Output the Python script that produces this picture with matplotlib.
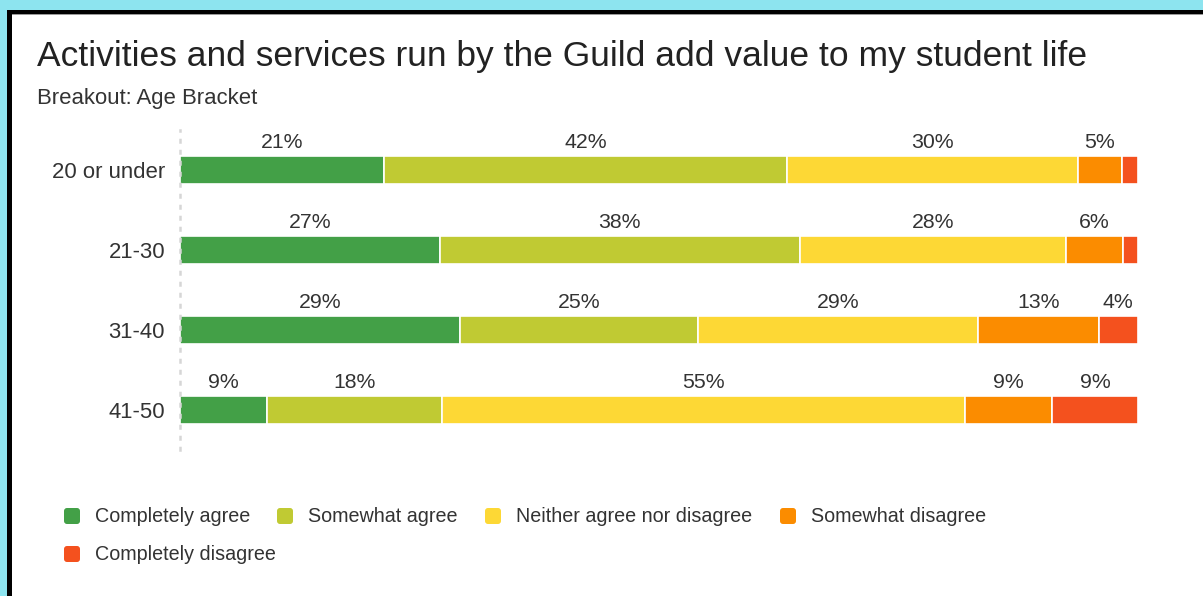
import matplotlib.pyplot as plt
from matplotlib.patches import Rectangle, FancyBboxPatch
import numpy as np

# --- DATA ---
age_brackets = ["20 or under", "21-30", "31-40", "41-50"]
responses = ["Completely agree", "Somewhat agree", "Neither agree nor disagree",
             "Somewhat disagree", "Completely disagree"]

completely_agree = [21.3, 27.1, 29.2, 9.1]
somewhat_agree = [42.1, 37.6, 24.9, 18.2]
neither = [30.3, 27.8, 29.2, 54.6]
somewhat_disagree = [4.6, 5.9, 12.6, 9.1]
completely_disagree = [1.7, 1.6, 4.1, 9.0]

colors = ["#43a047", "#c0ca33", "#fdd835", "#fb8c00", "#f4511e"]

title = "Activities and services run by the Guild add value to my student life"
subtitle = "Breakout: Age Bracket"

plt.rcParams['font.family'] = ['Liberation Sans', 'DejaVu Sans']
TXT = '#333333'

W, H = 1203, 596
fig = plt.figure(figsize=(W / 100, H / 100), dpi=100)
fig.patch.set_facecolor('#8de4ef')

# frame / background layer in pixel coordinates
bg = fig.add_axes([0, 0, 1, 1])
bg.set_xlim(0, W)
bg.set_ylim(H, 0)
bg.axis('off')
bg.add_patch(Rectangle((7, 10), W, H, facecolor='black', edgecolor='none'))
bg.add_patch(Rectangle((12, 14), W, H, facecolor='#9a9a9a', edgecolor='none'))
bg.add_patch(Rectangle((12, 15), W, H, facecolor='white', edgecolor='none'))

bg.text(37, 66, title, fontsize=25.5, color='#222222', va='baseline', ha='left')
bg.text(37, 104, subtitle, fontsize=15.9, color=TXT, va='baseline', ha='left')

# --- BARS ---
ax = fig.add_axes([180 / W, 1 - 450 / H, 958 / W, 320 / H])
ax.set_facecolor('none')
series = [completely_agree, somewhat_agree, neither, somewhat_disagree, completely_disagree]
y = np.arange(len(age_brackets))
left = np.zeros(len(age_brackets))
for vals, col, name in zip(series, colors, responses):
    vals = np.array(vals)
    ax.barh(y, vals, left=left, height=0.34, color=col, edgecolor='white',
            linewidth=1.2, label=name)
    for yi, (l, v) in enumerate(zip(left, vals)):
        if v >= 3:
            ax.text(l + v / 2, yi - 0.35, f"{round(v)}%", ha='center', va='center',
                    fontsize=15.3, color=TXT)
    left += vals

ax.set_xlim(0, 100)
ax.set_ylim(len(age_brackets) - 0.5, -0.5)
ax.set_yticks(y)
ax.set_yticklabels(age_brackets, fontsize=15.9, color=TXT)
ax.tick_params(axis='y', length=0, pad=10.8)
ax.set_xticks([])
for s in ['top', 'right', 'bottom']:
    ax.spines[s].set_visible(False)
ax.spines['left'].set_color('#d6d6d6')
ax.spines['left'].set_linewidth(1.8)
ax.spines['left'].set_linestyle((0, (1.0, 3.4)))

# --- LEGEND ---
legend_pos = [(64, 516), (277, 516), (485, 516), (780, 516), (64, 554)]
for (lx, ly), col, name in zip(legend_pos, colors, responses):
    bg.add_patch(FancyBboxPatch((lx + 1.5, ly - 6.5), 13, 13,
                                boxstyle="round,pad=1.5,rounding_size=3",
                                facecolor=col, edgecolor='none'))
    bg.text(lx + 31, ly, name, fontsize=14.2, color=TXT, va='center', ha='left')

fig.savefig("out.png", dpi=100, facecolor=fig.get_facecolor())
